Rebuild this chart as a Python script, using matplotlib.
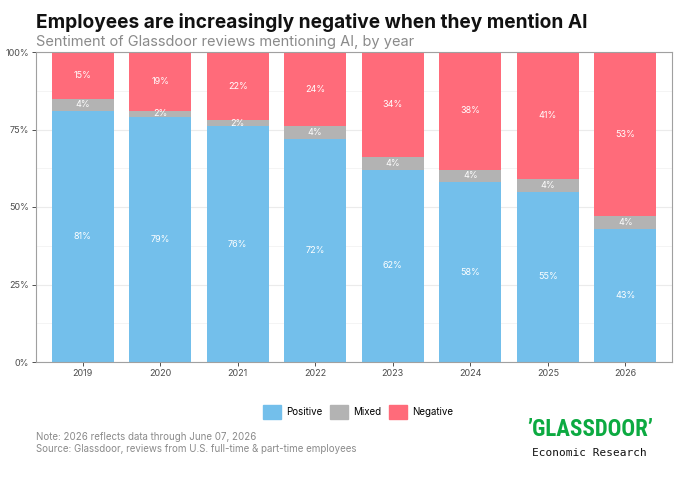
import matplotlib
matplotlib.use("Agg")
import matplotlib.pyplot as plt
from matplotlib.patches import Rectangle
from matplotlib.ticker import MultipleLocator, FuncFormatter
import numpy as np

years = ["2019", "2020", "2021", "2022", "2023", "2024", "2025", "2026"]
positive = [81, 79, 76, 72, 62, 58, 55, 43]
mixed = [4, 2, 2, 4, 4, 4, 4, 4]
negative = [15, 19, 22, 24, 34, 38, 41, 53]
series_names = ["Positive", "Mixed", "Negative"]
colors = ["#73BFEB", "#B3B3B3", "#FF6B7A"]

plt.rcParams['font.family'] = ['Inter', 'DejaVu Sans']

fig = plt.figure(figsize=(6.99, 4.84), dpi=100)
ax = fig.add_axes([36/699, 1-362/484, (672-36)/699, (362-52)/484])

x = np.arange(len(years))
bottom = np.zeros(len(years))
for vals, name, col in zip([positive, mixed, negative], series_names, colors):
    vals = np.array(vals, dtype=float)
    ax.bar(x, vals, width=0.8, bottom=bottom, color=col, label=name, zorder=2)
    for xi, b, v in zip(x, bottom, vals):
        ax.text(xi, b + v / 2, f"{int(v)}%", ha="center", va="center",
                color="white", fontsize=6.5, zorder=3)
    bottom += vals

ax.set_xlim(-0.6, len(years) - 0.4)
ax.set_ylim(0, 100)
ax.set_xticks(x)
ax.set_xticklabels(years)
ax.yaxis.set_major_locator(MultipleLocator(25))
ax.yaxis.set_minor_locator(MultipleLocator(12.5))
ax.yaxis.set_major_formatter(FuncFormatter(lambda v, p: f"{int(v)}%"))
ax.grid(axis="y", which="major", color="#EBEBEB", linewidth=0.8, zorder=0)
ax.grid(axis="y", which="minor", color="#F3F3F3", linewidth=0.6, zorder=0)
ax.tick_params(axis="both", which="major", labelsize=6.5, labelcolor="#4D4D4D",
               color="#333333", length=3, width=0.6, pad=2)
ax.tick_params(axis="y", which="minor", length=0)
for s in ax.spines.values():
    s.set_color("#A0A0A0")
    s.set_linewidth(0.8)

fig.text(36/699, 1-22/484, "Employees are increasingly negative when they mention AI",
         fontsize=13.75, fontweight="bold", color="#111111", ha="left", va="center")
fig.text(36/699, 1-42/484, "Sentiment of Glassdoor reviews mentioning AI, by year",
         fontsize=10.5, color="#8A8A8A", ha="left", va="center")

handles = [Rectangle((0, 0), 1, 1, color=c) for c in colors]
fig.legend(handles, series_names, loc="center", bbox_to_anchor=(358/699, 1-412/484),
           ncol=3, frameon=False, fontsize=7, handlelength=1.85, handleheight=1.85,
           columnspacing=0.8, handletextpad=0.55)

fig.text(36/699, 1-437/484, "Note: 2026 reflects data through June 07, 2026",
         fontsize=7, color="#8A8A8A", ha="left", va="center")
fig.text(36/699, 1-449/484, "Source: Glassdoor, reviews from U.S. full-time & part-time employees",
         fontsize=7, color="#8A8A8A", ha="left", va="center")

fig.text(590/699, 1-430/484, "\u2019GLASSDOOR\u2019", fontsize=16.5, fontweight="bold",
         color="#0CAA41", ha="center", va="center",
         family=["Roboto Condensed", "DejaVu Sans Condensed", "Liberation Sans Narrow",
                 "Open Sans Condensed", "Roboto"])
fig.text(589/699, 1-453/484, "Economic Research", fontsize=8, color="#111111",
         ha="center", va="center", family=["DejaVu Sans Mono"])

fig.savefig("out.png", dpi=100, facecolor="white")
